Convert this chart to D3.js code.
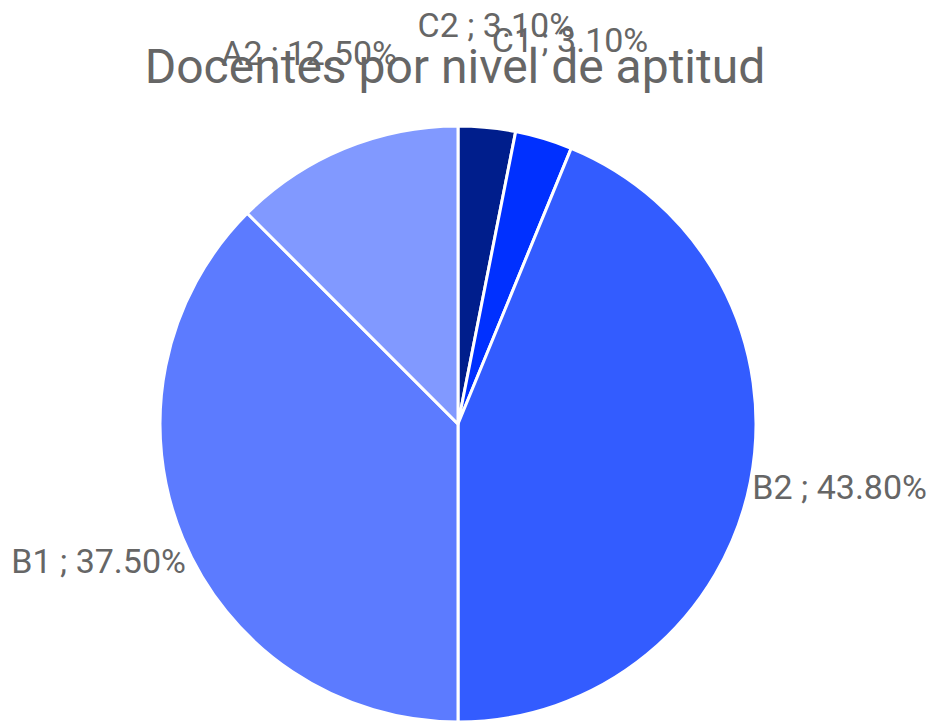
<!DOCTYPE html>
<html><head><meta charset="utf-8">
<script src="https://cdn.jsdelivr.net/npm/d3@7"></script>
<style>body{margin:0;background:#fff}svg{display:block}text{font-family:Roboto,sans-serif;fill:#666}</style>
</head><body><svg id="c" width="933" height="722"></svg>
<script>
const categories = ["C2","C1","B2","B1","A2"];
const values = [3.1, 3.1, 43.8, 37.5, 12.5];
const labels = ["C2 ; 3.10%","C1 ; 3.10%","B2 ; 43.80%","B1 ; 37.50%","A2 ; 12.50%"];
const colors = ["#001e8c","#0030ff","#335cff","#5c7bff","#8199ff"];
const title = "Docentes por nivel de aptitud";

const svg = d3.select("#c");
const cx = 458, cy = 424, r = 298;
const data = categories.map((c,i)=>({c, v:values[i], label:labels[i], color:colors[i]}));
const pie = d3.pie().value(d=>d.v).sort(null);
const arc = d3.arc().innerRadius(0).outerRadius(r);
const g = svg.append("g").attr("transform",`translate(${cx},${cy})`);
const arcs = pie(data);
g.selectAll("path").data(arcs).join("path")
  .attr("d",arc).attr("fill",d=>d.data.color)
  .attr("stroke","#fff").attr("stroke-width",3).attr("stroke-linejoin","round");

svg.append("text").attr("x",455).attr("y",83).attr("text-anchor","middle")
  .attr("font-size",48).text(title);

const lr = 389;
g.selectAll("text.l").data(arcs).join("text").attr("class","l")
  .attr("text-anchor","middle").attr("font-size",34)
  .attr("x",d=>Math.sin((d.startAngle+d.endAngle)/2)*lr)
  .attr("y",d=>-Math.cos((d.startAngle+d.endAngle)/2)*lr)
  .text(d=>d.data.label);
</script></body></html>
